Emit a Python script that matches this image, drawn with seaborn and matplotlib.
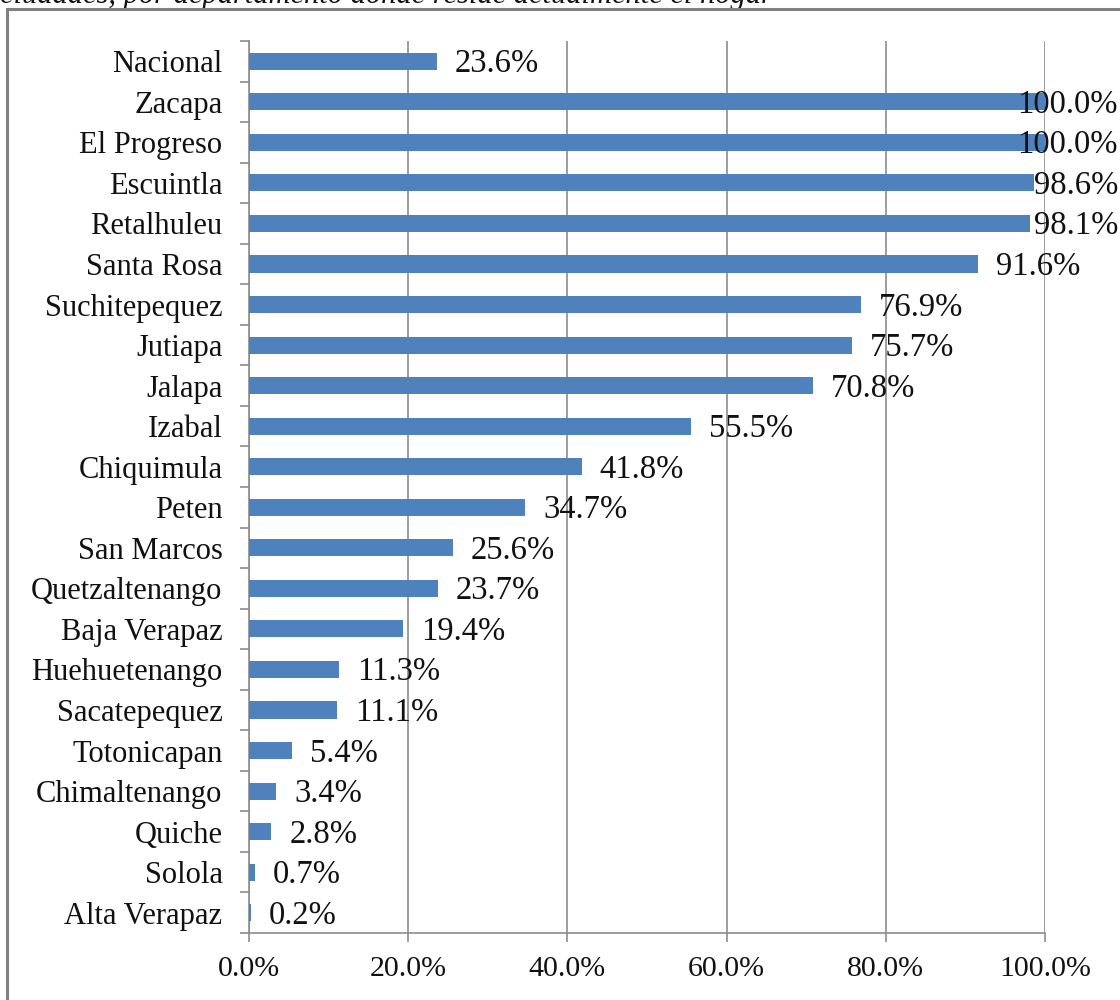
import matplotlib
matplotlib.use("Agg")
import matplotlib.pyplot as plt
import seaborn as sns
import pandas as pd
from matplotlib.patches import Rectangle
from matplotlib.ticker import MultipleLocator, FuncFormatter

categories = ["Nacional", "Zacapa", "El Progreso", "Escuintla", "Retalhuleu",
              "Santa Rosa", "Suchitepequez", "Jutiapa", "Jalapa", "Izabal",
              "Chiquimula", "Peten", "San Marcos", "Quetzaltenango",
              "Baja Verapaz", "Huehuetenango", "Sacatepequez", "Totonicapan",
              "Chimaltenango", "Quiche", "Solola", "Alta Verapaz"]
values = [23.6, 100.0, 100.0, 98.6, 98.1, 91.6, 76.9, 75.7, 70.8, 55.5,
          41.8, 34.7, 25.6, 23.7, 19.4, 11.3, 11.1, 5.4, 3.4, 2.8, 0.7, 0.2]
x_ticks = [0, 20, 40, 60, 80, 100]
caption = "ciudades, por departamento donde reside actualmente el hogar"

sns.set_style("white")
plt.rcParams["font.family"] = ["Liberation Serif", "DejaVu Serif"]

df = pd.DataFrame({"cat": categories, "val": values})

fig = plt.figure(figsize=(11.2, 10), dpi=100)
ax = fig.add_axes([249/1120, 1 - 933/1000, (1045 - 249)/1120, (933 - 41)/1000])

sns.barplot(data=df, x="val", y="cat", orient="h", color="#4F81BD",
            saturation=1, width=0.42, ax=ax, zorder=3, linewidth=0)

ax.set_xlim(0, 100)
ax.set_ylim(len(categories) - 0.5, -0.5)
ax.set_xlabel("")
ax.set_ylabel("")
ax.set_xticks(x_ticks)
ax.xaxis.set_major_formatter(FuncFormatter(lambda v, p: f"{v:.1f}%"))
ax.grid(axis="x", color="#8c8c8c", linewidth=1.2, zorder=0)
ax.grid(axis="y", visible=False)

for s in ["top", "right"]:
    ax.spines[s].set_visible(False)
for s in ["left", "bottom"]:
    ax.spines[s].set_color("#8c8c8c")
    ax.spines[s].set_linewidth(1.2)

ax.tick_params(axis="x", which="major", direction="out", length=6.5, width=1.2,
               color="#8c8c8c", labelsize=21.5, pad=10, bottom=True)
ax.tick_params(axis="y", which="major", length=0, labelsize=22, pad=19, left=True)
ax.yaxis.set_minor_locator(MultipleLocator(1, offset=0.5))
ax.tick_params(axis="y", which="minor", direction="out", length=6.5, width=1.2,
               color="#8c8c8c", left=True)
for lbl in ax.get_xticklabels() + ax.get_yticklabels():
    lbl.set_color("#111111")

# value labels
texts = []
for i, v in enumerate(values):
    t = ax.annotate(f"{v:.1f}%", xy=(v, i), xytext=(13, -2), textcoords="offset points",
                    ha="left", va="center", fontsize=23.5, color="#111111", zorder=5,
                    annotation_clip=False)
    texts.append(t)

fig.canvas.draw()
renderer = fig.canvas.get_renderer()
limit_px = 1118
for t in texts:
    bb = t.get_window_extent(renderer)
    if bb.x1 > limit_px:
        shift_pts = (bb.x1 - limit_px) * 72 / fig.dpi
        x0, y0 = t.xyann
        t.xyann = (x0 - shift_pts, y0)

# outer frame
fig.patches.append(Rectangle((7/1120, -0.05), 1.2, 1 - 8.5/1000 + 0.05,
                             transform=fig.transFigure, fill=False,
                             edgecolor="#808080", linewidth=2.2, zorder=10))
# cut-off caption at top
fig.text(0.0, 1 - 2.5/1000, caption, ha="left", va="baseline", fontsize=22,
         style="italic", color="#111111")

fig.savefig("out.png", dpi=100)
